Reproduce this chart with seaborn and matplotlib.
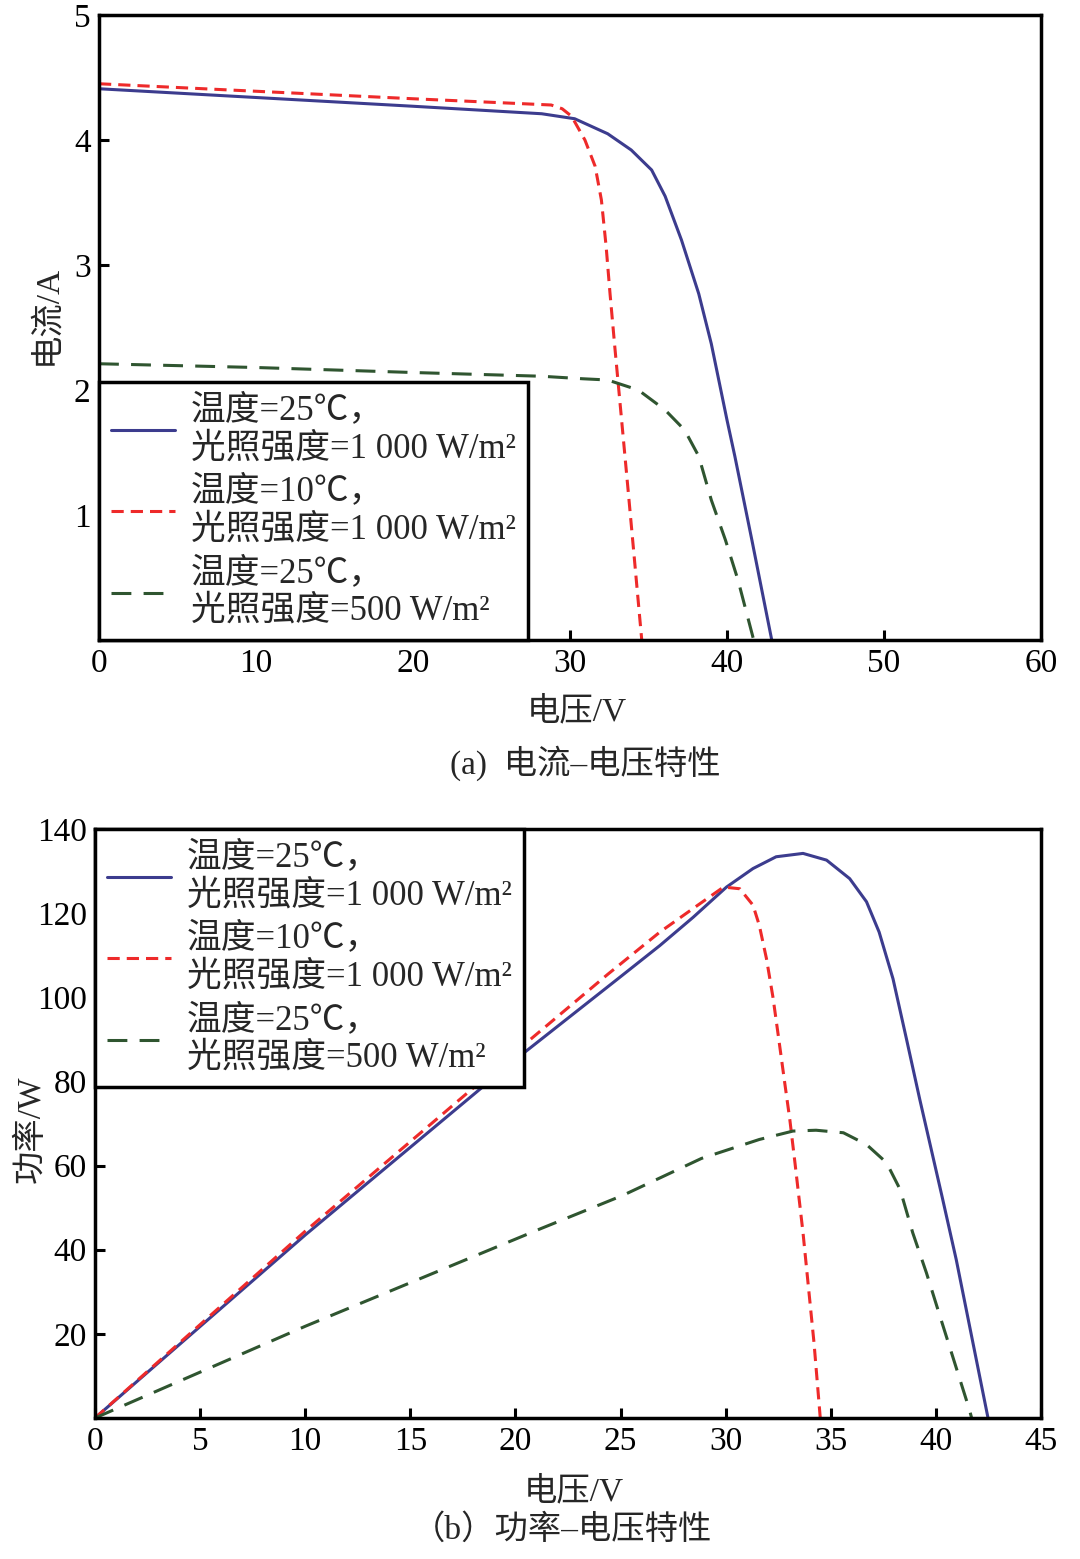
import matplotlib
matplotlib.use('Agg')
import matplotlib.pyplot as plt
import pandas as pd
import seaborn as sns

# series names (legend text)
series = ['温度=25℃，\n光照强度=1 000 W/m²',
          '温度=10℃，\n光照强度=1 000 W/m²',
          '温度=25℃，\n光照强度=500 W/m²']

# (a) current-voltage
iv_v_blue = [0, 10, 20, 28.2, 30.3, 32.4, 33.9, 35.2, 36.06, 37.1, 38.2, 39.0, 40.0, 40.5, 41.6, 42.85]
iv_i_blue = [4.41, 4.34, 4.27, 4.21, 4.17, 4.05, 3.92, 3.76, 3.55, 3.20, 2.77, 2.37, 1.76, 1.47, 0.79, 0.0]
iv_v_red = [0, 10, 20, 28.8, 29.5, 30.1, 30.95, 31.6, 32.0, 32.3, 32.55, 32.85, 33.25, 33.7, 34.1, 34.57]
iv_i_red = [4.45, 4.39, 4.33, 4.28, 4.25, 4.19, 4.00, 3.79, 3.52, 3.15, 2.77, 2.35, 1.81, 1.20, 0.65, 0.0]
iv_v_green = [0, 10, 20, 28.2, 30.8, 32.4, 34.35, 36.06, 37.3, 38.2, 39.0, 39.9, 40.7, 41.7]
iv_i_green = [2.21, 2.18, 2.14, 2.11, 2.09, 2.08, 2.00, 1.84, 1.68, 1.47, 1.12, 0.80, 0.48, 0.0]

# (b) power-voltage
pv_v_blue = [0, 10, 20, 24.9, 26.87, 28.45, 30.04, 31.3, 32.4, 33.68, 34.8, 35.9, 36.7, 37.3,
             37.96, 38.6, 39.23, 40.3, 40.97, 42.48]
pv_p_blue = [0, 43.5, 85.2, 104.5, 112.3, 119.0, 126.2, 130.6, 133.4, 134.2, 132.6, 128.2, 122.7, 115.5,
             104.4, 90.1, 75.8, 52.5, 37.6, 0]
pv_v_red = [0, 10, 20, 24.4, 26.87, 28.45, 29.9, 30.67, 31.3, 31.6, 31.94, 32.25, 32.5, 32.8, 33.05,
            33.3, 33.68, 34.2, 34.5]
pv_p_red = [0, 44.4, 87.0, 105.5, 115.5, 121.1, 126.2, 125.8, 121.9, 117.1, 109.2, 100.0, 91.0, 80.0, 71.0,
            60.5, 44.0, 18.0, 0]
pv_v_green = [0, 10, 21.2, 25.1, 28.85, 31.6, 33.2, 34.3, 35.6, 36.7, 37.65, 38.3, 38.9, 39.55, 40.2,
              40.8, 41.6, 41.7]
pv_p_green = [0, 21.8, 45.0, 52.9, 61.7, 66.2, 68.2, 68.4, 67.8, 65.0, 60.7, 54.3, 44.0, 34.5, 24.1,
              14.6, 1.9, 0]

palette = {series[0]: '#3c3c8e', series[1]: '#ee2a2a', series[2]: '#2f5530'}
dashes = {series[0]: '', series[1]: (4, 2.3), series[2]: (6.5, 4)}


def long_df(xs, ys, yname):
    frames = []
    for name, x, y in zip(series, xs, ys):
        frames.append(pd.DataFrame({'V': x, yname: y, 'series': name}))
    return pd.concat(frames, ignore_index=True)


df_iv = long_df([iv_v_blue, iv_v_red, iv_v_green], [iv_i_blue, iv_i_red, iv_i_green], 'I')
df_pv = long_df([pv_v_blue, pv_v_red, pv_v_green], [pv_p_blue, pv_p_red, pv_p_green], 'P')

sns.set_theme(style='ticks')
plt.rcParams['font.family'] = ['Liberation Serif', 'Noto Sans CJK SC']
plt.rcParams['font.size'] = 24
plt.rcParams['axes.unicode_minus'] = False

fig = plt.figure(figsize=(10.8, 15.59), dpi=100)
ax1 = fig.add_axes([99 / 1080, 1 - 640 / 1559, 942 / 1080, 625 / 1559])
ax2 = fig.add_axes([95 / 1080, 1 - 1418 / 1559, 946 / 1080, 589 / 1559])


def draw(ax, df, y, loc):
    sns.lineplot(data=df, x='V', y=y, hue='series', style='series', hue_order=series,
                 style_order=series, palette=palette, dashes=dashes, estimator=None,
                 sort=False, linewidth=2.2, legend=False, ax=ax)
    lines = ax.get_lines()[:3]
    leg = ax.legend(lines, series, loc=loc, borderaxespad=0, fancybox=False,
                    framealpha=1, edgecolor='black', fontsize=25, labelspacing=0.3,
                    handlelength=1.85, handletextpad=0.45, borderpad=0.35)
    leg.get_frame().set_linewidth(2.5)
    for sp in ax.spines.values():
        sp.set_linewidth(2.5)
        sp.set_color('black')
    ax.tick_params(direction='in', length=7, width=2.2, top=False, right=False,
                   labelsize=24, pad=6, colors='black')


draw(ax1, df_iv, 'I', 'lower left')
ax1.set_xlim(0, 60)
ax1.set_ylim(0, 5)
ax1.set_xticks([0, 10, 20, 30, 40, 50, 60])
ax1.set_yticks([1, 2, 3, 4, 5])
ax1.set_xlabel('电压/V', fontsize=24)
ax1.set_ylabel('电流/A', fontsize=24)
ax1.xaxis.set_label_coords(0.507, -0.09)
ax1.yaxis.set_label_coords(-0.039, 0.52)

draw(ax2, df_pv, 'P', 'upper left')
ax2.set_xlim(0, 45)
ax2.set_ylim(0, 140)
ax2.set_xticks([0, 5, 10, 15, 20, 25, 30, 35, 40, 45])
ax2.set_yticks([20, 40, 60, 80, 100, 120, 140])
ax2.set_xlabel('电压/V', fontsize=24)
ax2.set_ylabel('功率/W', fontsize=24)
ax2.xaxis.set_label_coords(0.506, -0.10)
ax2.yaxis.set_label_coords(-0.051, 0.49)

fig.text(585 / 1080, 1 - 763 / 1559, '(a)  电流–电压特性', ha='center', va='center', fontsize=24)
fig.text(562 / 1080, 1 - 1530 / 1559, '（b）功率–电压特性', ha='center', va='center', fontsize=24)

fig.savefig('out.png', dpi=100, facecolor='white')
